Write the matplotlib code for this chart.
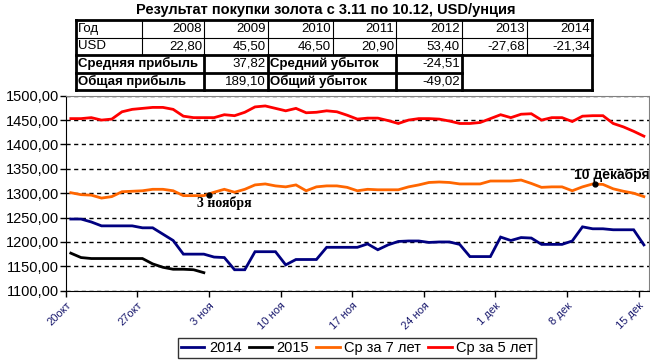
import numpy as np
import matplotlib
matplotlib.use("Agg")
import matplotlib.pyplot as plt
from matplotlib.lines import Line2D

plt.rcParams['font.family'] = ['Liberation Sans', 'DejaVu Sans']

# daily prices, 20 Oct .. 15 Dec
gold_2014 = [1247, 1247, 1241, 1233, 1233, 1233, 1233, 1229, 1229, 1216,
             1203, 1175, 1175, 1175, 1169, 1168, 1143, 1143, 1180, 1180,
             1180, 1153, 1164, 1164, 1164, 1189, 1189, 1189, 1189, 1196,
             1184, 1194, 1201, 1202, 1202, 1199, 1200, 1200, 1195, 1170,
             1170, 1170, 1210, 1203, 1209, 1208, 1195, 1195, 1195, 1202,
             1231, 1227, 1227, 1225, 1225, 1225, 1194]
gold_2015 = [1177, 1168, 1166, 1166, 1166, 1166, 1166, 1166, 1155, 1148,
             1144, 1144, 1143, 1137]
avg_7y = [1301, 1297, 1296, 1290, 1293, 1303, 1304, 1305, 1308, 1308,
          1305, 1295, 1295, 1295, 1302, 1308, 1302, 1308, 1317, 1319,
          1315, 1313, 1317, 1305, 1313, 1315, 1315, 1312, 1305, 1308,
          1307, 1307, 1307, 1313, 1317, 1322, 1323, 1322, 1319, 1319,
          1319, 1325, 1325, 1325, 1327, 1320, 1312, 1313, 1313, 1305,
          1313, 1319, 1318, 1309, 1304, 1300, 1293]
avg_5y = [1453, 1453, 1455, 1450, 1452, 1467, 1472, 1474, 1476, 1476,
          1472, 1458, 1455, 1455, 1455, 1461, 1459, 1466, 1477, 1479,
          1474, 1469, 1474, 1465, 1466, 1469, 1467, 1460, 1452, 1454,
          1454, 1449, 1443, 1450, 1453, 1453, 1452, 1448, 1443, 1443,
          1445, 1453, 1461, 1455, 1462, 1463, 1450, 1455, 1455, 1447,
          1458, 1459, 1459, 1443, 1436, 1427, 1417]
series_names = ['2014', '2015', 'Ср за 7 лет', 'Ср за 5 лет']
series_colors = ['#000080', '#000000', '#FF6600', '#FF0000']

tick_labels = ['20окт', '27окт', '3 ноя', '10 ноя', '17 ноя', '24 ноя',
               '1 дек', '8 дек', '15 дек']

# table
years = ['2008', '2009', '2010', '2011', '2012', '2013', '2014']
usd = ['22,80', '45,50', '46,50', '20,90', '53,40', '-27,68', '-21,34']
profit_labels = ['Средняя прибыль', 'Общая прибыль']
profit_values = ['37,82', '189,10']
loss_labels = ['Средний убыток', 'Общий убыток']
loss_values = ['-24,51', '-49,02']

W, H = 650, 360
fig = plt.figure(figsize=(W / 100, H / 100), dpi=100)


def fx(px):
    return px / W


def fy(py):
    return 1 - py / H


ax = fig.add_axes([fx(65.7), fy(290.7), fx(649) - fx(65.7), fy(95.7) - fy(290.7)])

for vals, name, col in zip([gold_2014, gold_2015, avg_7y, avg_5y], series_names, series_colors):
    ax.plot(np.arange(len(vals)) + 0.5, vals, color=col, lw=2, label=name,
            solid_joinstyle='miter')

ax.set_xlim(0, 57)
ax.set_ylim(1100, 1500)
ax.set_yticks(np.arange(1100, 1501, 50))
ax.set_yticklabels([f'{v:.2f}'.replace('.', ',') for v in np.arange(1100, 1501, 50)],
                   fontsize=10.5)
ax.set_xticks(np.arange(0, 57, 7))
ax.set_xticklabels(tick_labels, rotation=45, ha='right', va='top',
                   rotation_mode='anchor', fontsize=8, color='#1a1a6e')
ax.tick_params(axis='y', direction='out', length=4, pad=1, width=1)
ax.tick_params(axis='x', direction='out', length=4, pad=3, width=1)
ax.yaxis.grid(True, linestyle=(0, (3, 2.5)), color='black', lw=1)
ax.set_axisbelow(True)
for s in ['top', 'right']:
    ax.spines[s].set_color('#808080')
for s in ['left', 'bottom']:
    ax.spines[s].set_color('black')

# annotations
ax.plot([14.0], [1296], 'o', color='black', ms=3.5)
ax.text(12.8, 1280, '3 ноября', family=['Liberation Serif'], fontweight='bold',
        fontsize=10, va='center', ha='left')
ax.plot([51.7], [1319], 'o', color='black', ms=3.5)
ax.text(49.7, 1337, '10 декабря', fontweight='bold', fontsize=10,
        va='center', ha='left')

# title
fig.text(fx(326), fy(10), 'Результат покупки золота с 3.11 по 10.12, USD/унция',
         ha='center', va='center', fontsize=10.5, fontweight='bold')

# table
col_x = [76, 142, 204, 268, 333, 396, 462, 527, 592]
row_y = [20, 37.5, 55, 72.5, 90]


def hline(x0, x1, y, lw):
    fig.add_artist(Line2D([fx(x0), fx(x1)], [fy(y), fy(y)], color='black', lw=lw,
                          solid_capstyle='projecting'))


def vline(x, y0, y1, lw):
    fig.add_artist(Line2D([fx(x), fx(x)], [fy(y0), fy(y1)], color='black', lw=lw,
                          solid_capstyle='projecting'))


tfs = 9.5
for r, (label, vals) in enumerate([('Год', years), ('USD', usd)]):
    yc = (row_y[r] + row_y[r + 1]) / 2
    fig.text(fx(col_x[0] + 2), fy(yc), label, ha='left', va='center', fontsize=tfs)
    for c, v in enumerate(vals):
        fig.text(fx(col_x[c + 2] - 2), fy(yc), v, ha='right', va='center', fontsize=tfs)

for r in range(2):
    yc = (row_y[r + 2] + row_y[r + 3]) / 2
    fig.text(fx(col_x[0] + 2), fy(yc), profit_labels[r], ha='left', va='center',
             fontsize=tfs, fontweight='bold')
    fig.text(fx(col_x[3] - 2), fy(yc), profit_values[r], ha='right', va='center', fontsize=tfs)
    fig.text(fx(col_x[3] + 2), fy(yc), loss_labels[r], ha='left', va='center',
             fontsize=tfs, fontweight='bold')
    fig.text(fx(col_x[6] - 2), fy(yc), loss_values[r], ha='right', va='center', fontsize=tfs)

# thin inner lines of the year rows
hline(col_x[0], col_x[-1], row_y[1], 0.8)
for x in col_x[1:-1]:
    vline(x, row_y[0], row_y[2], 0.8)
# thick borders
hline(col_x[0], col_x[-1], row_y[0], 2)
hline(col_x[0], col_x[-1], row_y[2], 2)
hline(col_x[0], col_x[6], row_y[3], 2)
hline(col_x[0], col_x[-1], row_y[4], 2)
vline(col_x[0], row_y[0], row_y[4], 2)
vline(col_x[-1], row_y[0], row_y[4], 2)
for x in [col_x[2], col_x[3], col_x[5], col_x[6]]:
    vline(x, row_y[2], row_y[4], 2)

# legend
handles = ax.get_lines()[:4]
leg = fig.legend(handles, series_names, loc='center', ncol=4,
                 bbox_to_anchor=(fx(357), fy(348)), fontsize=10.5, frameon=True,
                 fancybox=False, edgecolor='black', handlelength=1.6,
                 handletextpad=0.3, columnspacing=0.5, borderpad=0.2)
leg.get_frame().set_linewidth(1)

fig.savefig('out.png', dpi=100)
